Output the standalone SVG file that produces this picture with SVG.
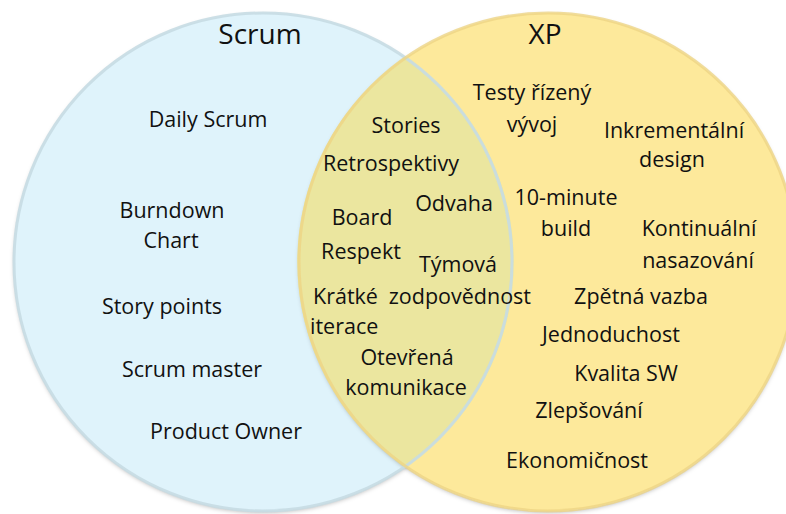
<svg xmlns="http://www.w3.org/2000/svg" width="786" height="514" viewBox="0 0 786 514">
<defs>
<style>
text{font-family:"Open Sans","Noto Sans","Liberation Sans",sans-serif;font-size:21.5px;fill:#111;text-anchor:middle}
.title{font-size:28px}
.s{text-anchor:start}
.e{text-anchor:end}
</style>
<filter id="sh" x="-10%" y="-10%" width="120%" height="120%">
<feDropShadow dx="0" dy="2" stdDeviation="2" flood-color="#000" flood-opacity="0.25"/>
</filter>
</defs>
<rect width="786" height="514" fill="#fff"/>
<g id="scrum">
<circle cx="263" cy="262" r="249" fill="#dff3fb" filter="url(#sh)"/>
</g>
<g id="xp">
<circle cx="548" cy="262" r="249" fill="#fde99b" filter="url(#sh)"/>
</g>
<g id="overlap">
<path d="M405.5 56.6 A249 249 0 0 1 405.5 467.4 A249 249 0 0 1 405.5 56.6 Z" fill="#ebe69f"/>
</g>
<g id="outlines" fill="none" stroke-width="3">
<circle cx="263" cy="262" r="249" stroke="#c6dbe3" stroke-opacity="0.9"/>
<circle cx="548" cy="262" r="249" stroke="#eed584" stroke-opacity="0.8"/>
</g>
<g id="scrum-labels">
<text class="title" x="260" y="44">Scrum</text>
<text x="208" y="127">Daily Scrum</text>
<text x="172" y="218">Burndown</text>
<text x="171" y="248">Chart</text>
<text x="162" y="314">Story points</text>
<text x="192" y="377">Scrum master</text>
<text x="226" y="439">Product Owner</text>
</g>
<g id="shared-labels">
<text x="406" y="133">Stories</text>
<text x="391" y="171">Retrospektivy</text>
<text x="454" y="211">Odvaha</text>
<text x="362" y="225">Board</text>
<text x="361" y="259">Respekt</text>
<text x="458" y="272">Týmová</text>
<text class="s" x="313" y="304">Krátké</text>
<text class="e" x="531" y="304">zodpovědnost</text>
<text class="s" x="310" y="334">iterace</text>
<text x="407" y="365">Otevřená</text>
<text x="406" y="395">komunikace</text>
</g>
<g id="xp-labels">
<text class="title" x="545" y="44">XP</text>
<text x="532" y="100">Testy řízený</text>
<text x="532" y="132">vývoj</text>
<text x="674" y="138">Inkrementální</text>
<text x="672" y="167">design</text>
<text x="566" y="205">10-minute</text>
<text x="566" y="236">build</text>
<text x="699" y="236">Kontinuální</text>
<text x="698" y="268">nasazování</text>
<text x="641" y="304">Zpětná vazba</text>
<text x="611" y="342">Jednoduchost</text>
<text x="626" y="381">Kvalita SW</text>
<text x="589" y="418">Zlepšování</text>
<text x="577" y="468">Ekonomičnost</text>
</g>
</svg>
